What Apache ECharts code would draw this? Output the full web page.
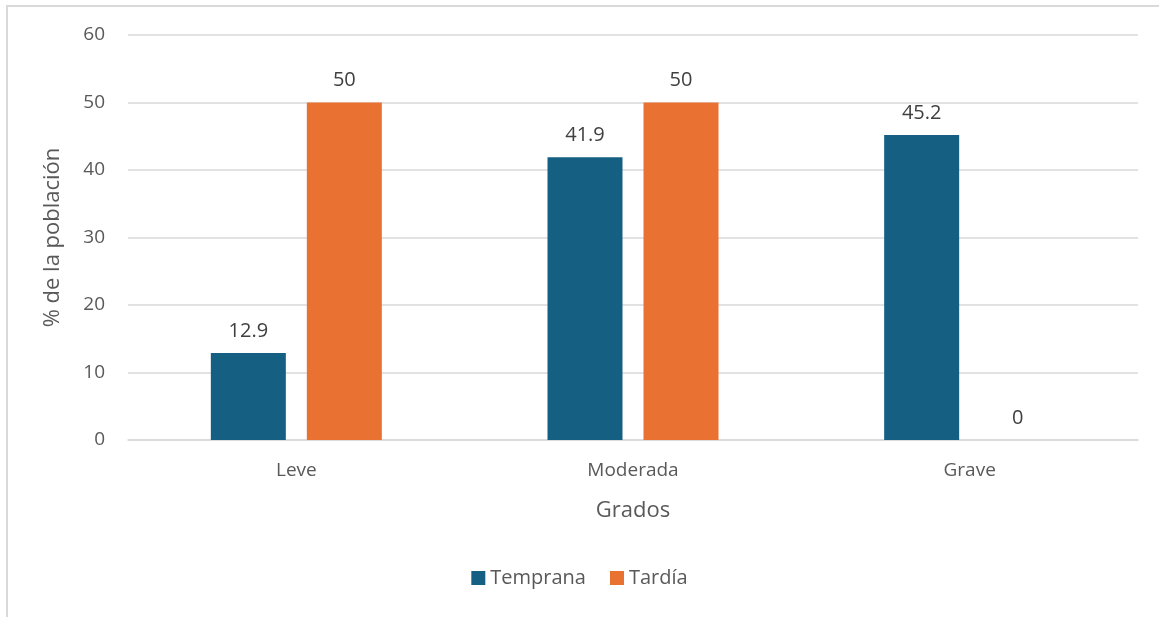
<!DOCTYPE html>
<html>
<head>
<meta charset="utf-8">
<script src="https://cdn.jsdelivr.net/npm/echarts@6/dist/echarts.min.js"></script>
<style>
  html, body { margin: 0; padding: 0; background: #fff; }
  #chart { width: 1159px; height: 617px; }
</style>
</head>
<body>
<div id="chart"></div>
<script>
var grados = ['Leve', 'Moderada', 'Grave'];
var temprana = [12.9, 41.9, 45.2];
var tardia = [50, 50, 0];
var yTicks = { min: 0, max: 60, interval: 10 };

var labelStyle = {
	show: true,
	position: 'top',
	distance: 12,
	color: '#404040',
	fontSize: 20,
	fontFamily: 'Open Sans'
};

var option = {
	backgroundColor: '#fff',
	animation: false,
	textStyle: { fontFamily: 'Open Sans' },
	graphic: [{
		type: 'rect',
		shape: { x: 7, y: 6, width: 1170, height: 630 },
		style: { fill: 'none', stroke: '#d9d9d9', lineWidth: 2 }
	}],
	grid: { left: 128, right: 21, top: 35, bottom: 177 },
	legend: {
		bottom: 24,
		left: 'center',
		itemWidth: 14,
		itemHeight: 14,
		itemGap: 24,
		icon: 'rect',
		textStyle: { color: '#595959', fontSize: 20 },
		data: ['Temprana', 'Tardía']
	},
	xAxis: {
		type: 'category',
		data: grados,
		name: 'Grados',
		nameLocation: 'middle',
		nameGap: 60,
		nameTextStyle: { color: '#595959', fontSize: 22 },
		axisTick: { show: false },
		axisLine: { lineStyle: { color: '#d9d9d9', width: 1.5 } },
		axisLabel: { color: '#595959', fontSize: 19, margin: 21 }
	},
	yAxis: {
		type: 'value',
		min: yTicks.min,
		max: yTicks.max,
		interval: yTicks.interval,
		name: '% de la población',
		nameLocation: 'middle',
		nameGap: 64,
		nameTextStyle: { color: '#595959', fontSize: 22 },
		axisLine: { show: false },
		axisTick: { show: false },
		axisLabel: { color: '#595959', fontSize: 19, margin: 23 },
		splitLine: { lineStyle: { color: '#d9d9d9', width: 1.5 } }
	},
	series: [{
		name: 'Temprana',
		type: 'bar',
		data: temprana,
		barWidth: 75,
		barGap: '28%',
		itemStyle: { color: '#156082' },
		label: labelStyle
	}, {
		name: 'Tardía',
		type: 'bar',
		data: tardia,
		barWidth: 75,
		barGap: '28%',
		itemStyle: { color: '#E97132' },
		label: labelStyle
	}]
};

echarts.init(document.getElementById('chart')).setOption(option);
</script>
</body>
</html>
